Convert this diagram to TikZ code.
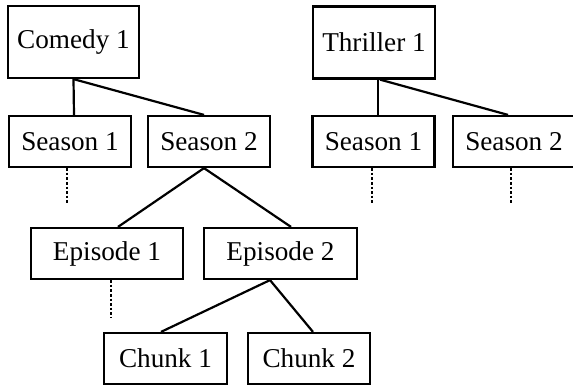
\documentclass[tikz,border=0pt]{standalone}
\usepackage{fontspec}
\setmainfont{Liberation Serif}
\usepackage{tikz}

\begin{document}
\begin{tikzpicture}[
    x=0.5pt, y=-0.5pt,
    every node/.style={font=\fontsize{13.6}{15}\selectfont, align=center},
    kutu/.style={draw, line width=1.1pt, inner sep=0pt, minimum width=61pt, minimum height=25.5pt},
    ana/.style={kutu, minimum height=36pt},
    bag/.style={line width=1.1pt},
    nokta/.style={line width=1.1pt, dash pattern=on 1.3pt off 1pt}
]
\useasboundingbox (0,0) rectangle (573,387);
% root nodes
\node[ana, minimum width=65.5pt] (com1) at (73.5,42) {Comedy 1};
\node[ana] (thr1) at (374,42.5) {Thriller 1};
% seasons
\node[kutu] (cs1) at (70,141.5) {Season 1};
\node[kutu] (cs2) at (209,141.5) {Season 2};
\node[kutu] (ts1) at (373.5,141.5) {Season 1};
\node[kutu] (ts2) at (514,141.5) {Season 2};
% episodes
\node[kutu, minimum width=76pt] (ep1) at (107,253.5) {Episode 1};
\node[kutu, minimum width=76.5pt] (ep2) at (280.5,253.5) {Episode 2};
% chunks
\node[kutu, minimum width=61.5pt] (ch1) at (165.5,358.5) {Chunk 1};
\node[kutu] (ch2) at (309,358.5) {Chunk 2};
\draw[bag] (com1.south) -- ([xshift=2pt]cs1.north);
\draw[bag] (com1.south) -- ([xshift=-2.5pt]cs2.north);
\draw[bag] ([xshift=2pt]thr1.south) -- ([xshift=2.25pt]ts1.north);
\draw[bag] ([xshift=3pt]thr1.south) -- ([xshift=-3pt]ts2.north);
\draw[bag] ([xshift=-2.5pt]cs2.south) -- ([xshift=5.5pt]ep1.north);
\draw[bag] ([xshift=-2.5pt]cs2.south) -- ([xshift=5.25pt]ep2.north);
\draw[bag] ([xshift=-5.25pt]ep2.south) -- ([xshift=-2.25pt]ch1.north);
\draw[bag] ([xshift=-5.25pt]ep2.south) -- ([xshift=2pt]ch2.north);
\draw[nokta] ([xshift=-1.5pt]cs1.south) -- ++(0,36);
\draw[nokta] ([xshift=-0.75pt]ts1.south) -- ++(0,36);
\draw[nokta] ([xshift=-1.5pt]ts2.south) -- ++(0,36);
\draw[nokta] ([xshift=2pt]ep1.south) -- ++(0,37);
\end{tikzpicture}
\end{document}
